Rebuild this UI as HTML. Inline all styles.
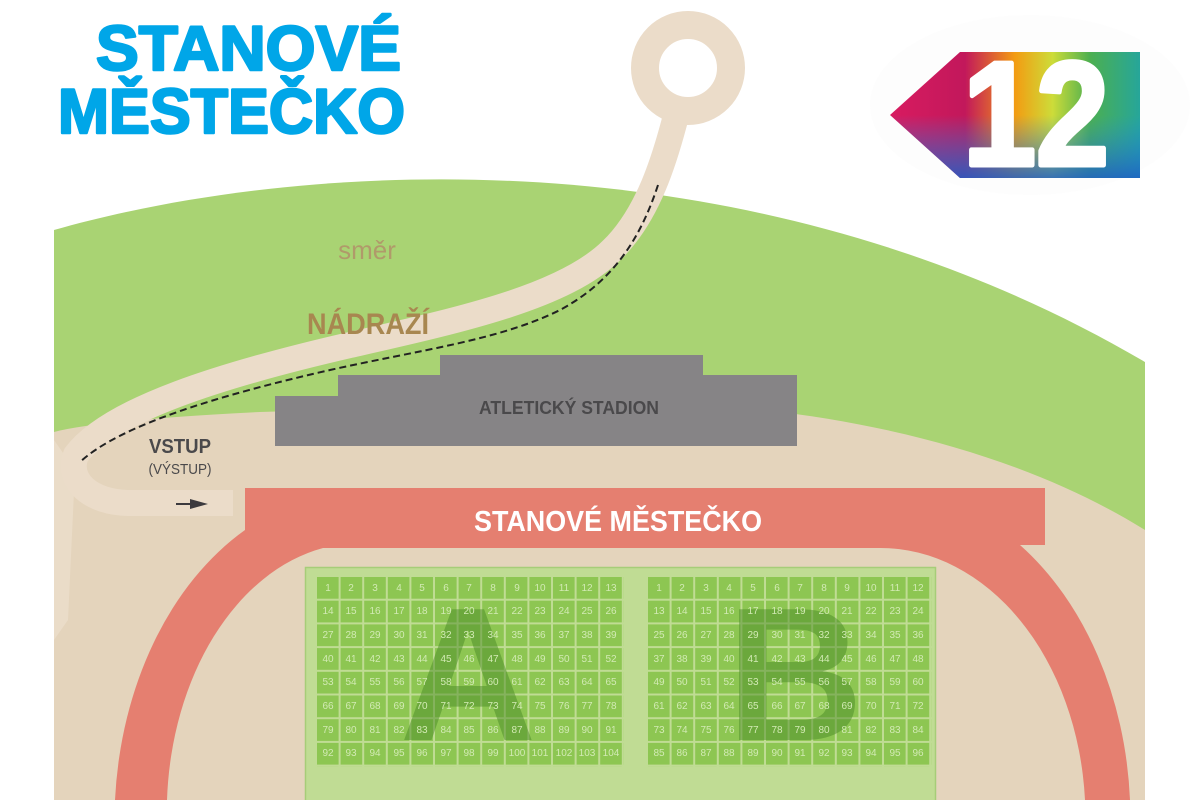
<!DOCTYPE html>
<html><head><meta charset="utf-8"><style>
html,body{margin:0;padding:0;background:#fff;width:1200px;height:800px;overflow:hidden}
svg{display:block}
</style></head><body>
<svg width="1200" height="800" viewBox="0 0 1200 800" xmlns="http://www.w3.org/2000/svg">
<defs>
<pattern id="cA" x="317" y="577" width="23.6" height="23.7" patternUnits="userSpaceOnUse"><rect x="0" y="0" width="21.6" height="21.7" fill="#8dc652"/></pattern>
<pattern id="cB" x="648" y="577" width="23.6" height="23.7" patternUnits="userSpaceOnUse"><rect x="0" y="0" width="21.6" height="21.7" fill="#8dc652"/></pattern>
<linearGradient id="lg" x1="0" y1="0" x2="1" y2="0">
<stop offset="0" stop-color="#d81b60"/><stop offset="0.3" stop-color="#c2185b"/><stop offset="0.5" stop-color="#f39c12"/><stop offset="0.65" stop-color="#cddc39"/><stop offset="0.8" stop-color="#4caf50"/><stop offset="1" stop-color="#26a69a"/>
</linearGradient>
<linearGradient id="lg2" x1="0" y1="0" x2="0" y2="1">
<stop offset="0.5" stop-color="#1e88e5" stop-opacity="0"/><stop offset="1" stop-color="#1e5fc8" stop-opacity="0.85"/>
</linearGradient>
</defs>

<path d="M54,230 C300,160 750,130 1145,362 L1145,800 L54,800 Z" fill="#a9d373"/>
<path d="M54,432 Q100,420 260,412 L600,402 C800,400 1000,440 1145,530 L1145,800 L54,800 Z" fill="#e4d4bc"/>
<path d="M54,440 L75,470 L68,620 L54,640 Z" fill="#eadcc8"/>
<circle cx="688" cy="68" r="43" fill="none" stroke="#ebdcc9" stroke-width="28"/>
<path d="M678,108 C665,160 648,215 612,250 C565,297 460,320 350,345 C220,375 110,410 76,455 C66,480 90,503 130,503 L233,503" fill="none" stroke="#ebdcc9" stroke-width="26"/>
<path d="M658,185 C640,240 612,282 560,310 C500,340 420,350 330,370 C220,395 120,425 80,462" fill="none" stroke="#222" stroke-width="2" stroke-dasharray="7 4"/>

<rect x="440" y="355" width="263" height="22" fill="#868486"/>
<rect x="338" y="375" width="459" height="24" fill="#868486"/>
<rect x="275" y="396" width="522" height="50" fill="#868486"/>
<text x="569" y="414" font-family="Liberation Sans Narrow, Liberation Sans, sans-serif" font-weight="bold" font-size="18" fill="#4a494b" text-anchor="middle" textLength="180" lengthAdjust="spacingAndGlyphs">ATLETICKÝ STADION</text>

<path d="M245,488 L1045,488 L1045,545 L1020,545 A250,330 0 0 1 1130,800 L115,800 A245,330 0 0 1 245,530 Z" fill="#e57f70"/>
<path d="M323,548 L880,548 A205,270 0 0 1 1085,800 L167,800 A193,270 0 0 1 323,548 Z" fill="#e4d4bc"/>
<rect x="245" y="488" width="800" height="57" fill="#e57f70"/>
<text x="618" y="531" font-family="Liberation Sans Narrow, Liberation Sans, sans-serif" font-weight="bold" font-size="29" fill="#fff" text-anchor="middle" textLength="288" lengthAdjust="spacingAndGlyphs">STANOVÉ MĚSTEČKO</text>

<rect x="305.5" y="567.5" width="630" height="240" fill="#c0dc94" stroke="#a6cd78" stroke-width="1.5"/>
<rect x="317" y="577" width="306.8" height="189.6" fill="url(#cA)"/>
<rect x="648" y="577" width="283.2" height="189.6" fill="url(#cB)"/>
<text x="468" y="740" font-family="Liberation Sans, sans-serif" font-weight="bold" font-size="190" fill="#4a8a26" fill-opacity="0.5" text-anchor="middle">A</text>
<text x="795" y="740" font-family="Liberation Sans, sans-serif" font-weight="bold" font-size="190" fill="#4a8a26" fill-opacity="0.5" text-anchor="middle">B</text>

<g font-family="Liberation Sans Narrow, Liberation Sans, sans-serif" font-size="10" fill="#d2eab4" text-anchor="middle">
<text x="328" y="591">1</text><text x="351" y="591">2</text><text x="375" y="591">3</text><text x="399" y="591">4</text><text x="422" y="591">5</text><text x="446" y="591">6</text><text x="469" y="591">7</text><text x="493" y="591">8</text><text x="517" y="591">9</text><text x="540" y="591">10</text><text x="564" y="591">11</text><text x="587" y="591">12</text><text x="611" y="591">13</text>
<text x="328" y="614">14</text><text x="351" y="614">15</text><text x="375" y="614">16</text><text x="399" y="614">17</text><text x="422" y="614">18</text><text x="446" y="614">19</text><text x="469" y="614">20</text><text x="493" y="614">21</text><text x="517" y="614">22</text><text x="540" y="614">23</text><text x="564" y="614">24</text><text x="587" y="614">25</text><text x="611" y="614">26</text>
<text x="328" y="638">27</text><text x="351" y="638">28</text><text x="375" y="638">29</text><text x="399" y="638">30</text><text x="422" y="638">31</text><text x="446" y="638">32</text><text x="469" y="638">33</text><text x="493" y="638">34</text><text x="517" y="638">35</text><text x="540" y="638">36</text><text x="564" y="638">37</text><text x="587" y="638">38</text><text x="611" y="638">39</text>
<text x="328" y="662">40</text><text x="351" y="662">41</text><text x="375" y="662">42</text><text x="399" y="662">43</text><text x="422" y="662">44</text><text x="446" y="662">45</text><text x="469" y="662">46</text><text x="493" y="662">47</text><text x="517" y="662">48</text><text x="540" y="662">49</text><text x="564" y="662">50</text><text x="587" y="662">51</text><text x="611" y="662">52</text>
<text x="328" y="685">53</text><text x="351" y="685">54</text><text x="375" y="685">55</text><text x="399" y="685">56</text><text x="422" y="685">57</text><text x="446" y="685">58</text><text x="469" y="685">59</text><text x="493" y="685">60</text><text x="517" y="685">61</text><text x="540" y="685">62</text><text x="564" y="685">63</text><text x="587" y="685">64</text><text x="611" y="685">65</text>
<text x="328" y="709">66</text><text x="351" y="709">67</text><text x="375" y="709">68</text><text x="399" y="709">69</text><text x="422" y="709">70</text><text x="446" y="709">71</text><text x="469" y="709">72</text><text x="493" y="709">73</text><text x="517" y="709">74</text><text x="540" y="709">75</text><text x="564" y="709">76</text><text x="587" y="709">77</text><text x="611" y="709">78</text>
<text x="328" y="733">79</text><text x="351" y="733">80</text><text x="375" y="733">81</text><text x="399" y="733">82</text><text x="422" y="733">83</text><text x="446" y="733">84</text><text x="469" y="733">85</text><text x="493" y="733">86</text><text x="517" y="733">87</text><text x="540" y="733">88</text><text x="564" y="733">89</text><text x="587" y="733">90</text><text x="611" y="733">91</text>
<text x="328" y="756">92</text><text x="351" y="756">93</text><text x="375" y="756">94</text><text x="399" y="756">95</text><text x="422" y="756">96</text><text x="446" y="756">97</text><text x="469" y="756">98</text><text x="493" y="756">99</text><text x="517" y="756">100</text><text x="540" y="756">101</text><text x="564" y="756">102</text><text x="587" y="756">103</text><text x="611" y="756">104</text>

<text x="659" y="591">1</text><text x="682" y="591">2</text><text x="706" y="591">3</text><text x="729" y="591">4</text><text x="753" y="591">5</text><text x="777" y="591">6</text><text x="800" y="591">7</text><text x="824" y="591">8</text><text x="847" y="591">9</text><text x="871" y="591">10</text><text x="895" y="591">11</text><text x="918" y="591">12</text>
<text x="659" y="614">13</text><text x="682" y="614">14</text><text x="706" y="614">15</text><text x="729" y="614">16</text><text x="753" y="614">17</text><text x="777" y="614">18</text><text x="800" y="614">19</text><text x="824" y="614">20</text><text x="847" y="614">21</text><text x="871" y="614">22</text><text x="895" y="614">23</text><text x="918" y="614">24</text>
<text x="659" y="638">25</text><text x="682" y="638">26</text><text x="706" y="638">27</text><text x="729" y="638">28</text><text x="753" y="638">29</text><text x="777" y="638">30</text><text x="800" y="638">31</text><text x="824" y="638">32</text><text x="847" y="638">33</text><text x="871" y="638">34</text><text x="895" y="638">35</text><text x="918" y="638">36</text>
<text x="659" y="662">37</text><text x="682" y="662">38</text><text x="706" y="662">39</text><text x="729" y="662">40</text><text x="753" y="662">41</text><text x="777" y="662">42</text><text x="800" y="662">43</text><text x="824" y="662">44</text><text x="847" y="662">45</text><text x="871" y="662">46</text><text x="895" y="662">47</text><text x="918" y="662">48</text>
<text x="659" y="685">49</text><text x="682" y="685">50</text><text x="706" y="685">51</text><text x="729" y="685">52</text><text x="753" y="685">53</text><text x="777" y="685">54</text><text x="800" y="685">55</text><text x="824" y="685">56</text><text x="847" y="685">57</text><text x="871" y="685">58</text><text x="895" y="685">59</text><text x="918" y="685">60</text>
<text x="659" y="709">61</text><text x="682" y="709">62</text><text x="706" y="709">63</text><text x="729" y="709">64</text><text x="753" y="709">65</text><text x="777" y="709">66</text><text x="800" y="709">67</text><text x="824" y="709">68</text><text x="847" y="709">69</text><text x="871" y="709">70</text><text x="895" y="709">71</text><text x="918" y="709">72</text>
<text x="659" y="733">73</text><text x="682" y="733">74</text><text x="706" y="733">75</text><text x="729" y="733">76</text><text x="753" y="733">77</text><text x="777" y="733">78</text><text x="800" y="733">79</text><text x="824" y="733">80</text><text x="847" y="733">81</text><text x="871" y="733">82</text><text x="895" y="733">83</text><text x="918" y="733">84</text>
<text x="659" y="756">85</text><text x="682" y="756">86</text><text x="706" y="756">87</text><text x="729" y="756">88</text><text x="753" y="756">89</text><text x="777" y="756">90</text><text x="800" y="756">91</text><text x="824" y="756">92</text><text x="847" y="756">93</text><text x="871" y="756">94</text><text x="895" y="756">95</text><text x="918" y="756">96</text>
</g>

<text x="367" y="259" font-family="Liberation Sans Narrow, Liberation Sans, sans-serif" font-size="26" fill="#b09a6a" text-anchor="middle">směr</text>
<text x="368" y="334" font-family="Liberation Sans Narrow, Liberation Sans, sans-serif" font-weight="bold" font-size="30" fill="#a88750" text-anchor="middle" textLength="122" lengthAdjust="spacingAndGlyphs">NÁDRAŽÍ</text>
<text x="180" y="453" font-family="Liberation Sans Narrow, Liberation Sans, sans-serif" font-weight="bold" font-size="20" fill="#4a494b" text-anchor="middle" textLength="62" lengthAdjust="spacingAndGlyphs">VSTUP</text>
<text x="180" y="474" font-family="Liberation Sans Narrow, Liberation Sans, sans-serif" font-size="15" fill="#4a494b" text-anchor="middle" textLength="63" lengthAdjust="spacingAndGlyphs">(VÝSTUP)</text>
<path d="M176,504 L194,504" stroke="#3c3a3e" stroke-width="2"/>
<path d="M190,499 L208,504 L190,509 Z" fill="#3c3a3e"/>

<g font-family="Liberation Sans, sans-serif" font-weight="bold" font-size="63" fill="#00a6e8" stroke="#00a6e8" stroke-width="2.5" stroke-linejoin="round">
<text x="96" y="70" textLength="305" lengthAdjust="spacingAndGlyphs">STANOVÉ</text>
<text x="58" y="133" textLength="347" lengthAdjust="spacingAndGlyphs">MĚSTEČKO</text>
</g>

<ellipse cx="1030" cy="105" rx="160" ry="90" fill="#f9f9f9" opacity="0.35"/>
<path d="M890,115 L960,52 L1140,52 L1140,178 L960,178 Z" fill="url(#lg)"/>
<path d="M890,115 L960,52 L1140,52 L1140,178 L960,178 Z" fill="url(#lg2)"/>
<text x="1036" y="165" font-family="Liberation Sans, sans-serif" font-weight="bold" font-size="148" fill="#fff" stroke="#fff" stroke-width="5" stroke-linejoin="round" text-anchor="middle" textLength="146" lengthAdjust="spacingAndGlyphs">12</text>
</svg>
</body></html>
